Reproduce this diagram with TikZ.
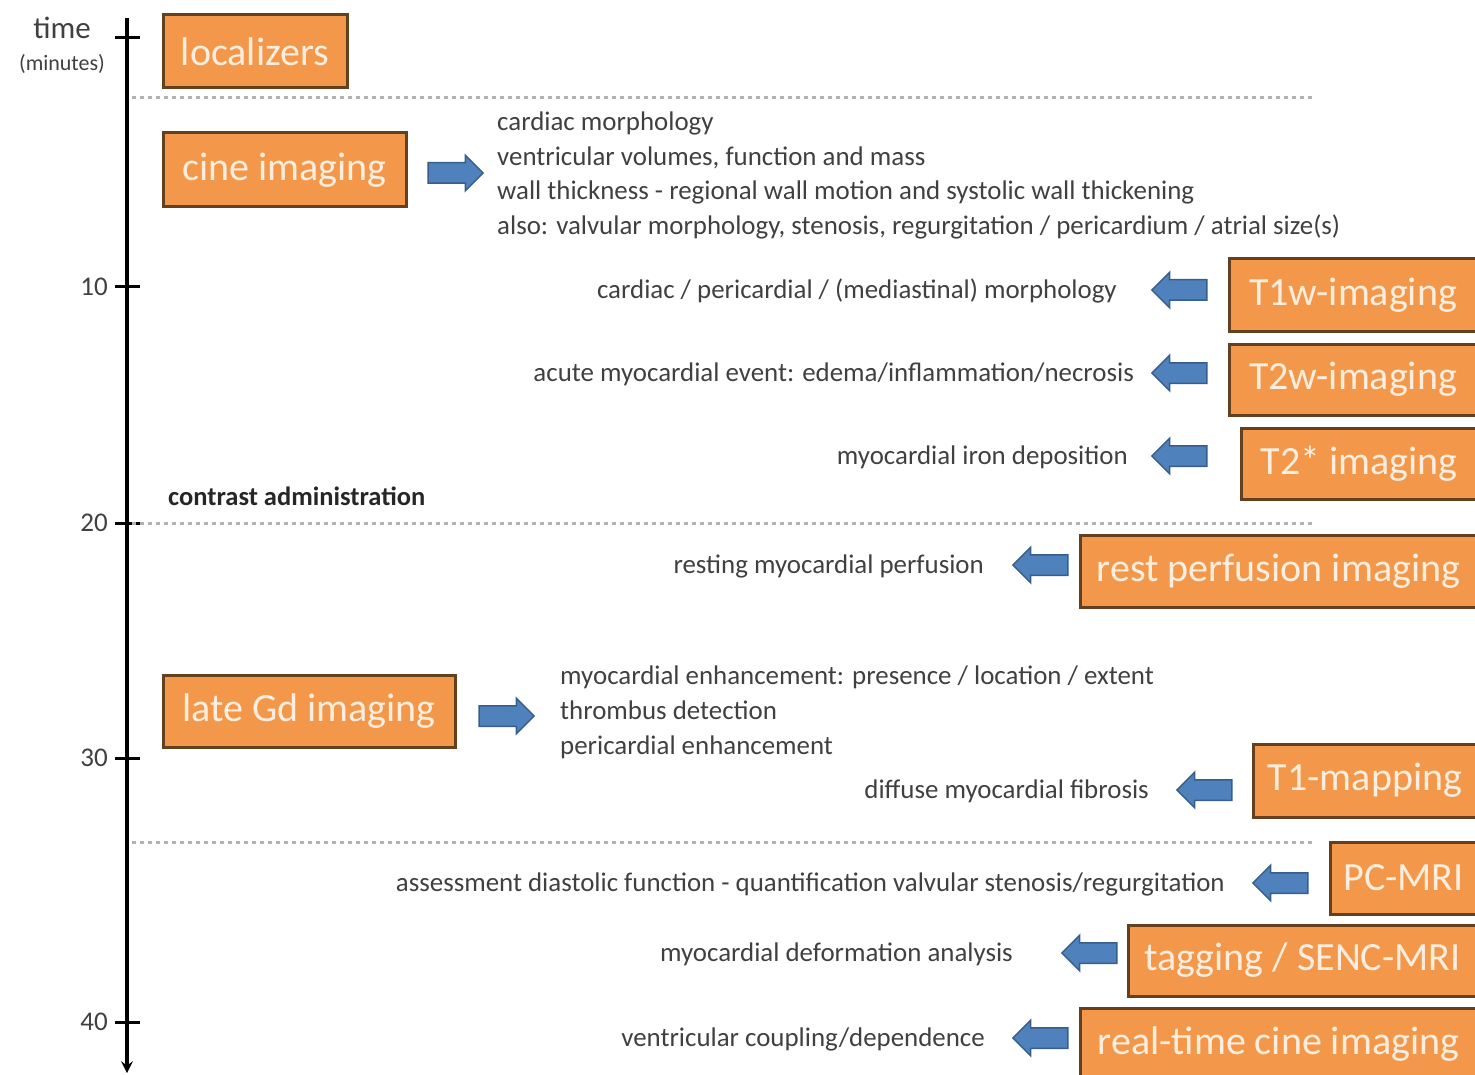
\documentclass[tikz,border=0pt]{standalone}
\usepackage{fontspec}
\setmainfont{Carlito}
\usetikzlibrary{shapes.arrows}
\definecolor{boxfill}{RGB}{243,152,74}
\definecolor{boxline}{RGB}{100,64,30}
\definecolor{boxtext}{RGB}{254,238,224}
\definecolor{arrowfill}{RGB}{79,129,189}
\definecolor{arrowline}{RGB}{56,93,138}
\definecolor{txtgray}{RGB}{64,64,64}
\begin{document}
\begin{tikzpicture}[x=1pt,y=-1pt,
  stage/.style={draw=boxline,fill=boxfill,line width=3pt,text=boxtext,font=\fontsize{40}{42}\selectfont,inner sep=0pt},
  goal/.style={text=txtgray,font=\fontsize{26.9}{34.7}\selectfont,inner sep=0pt,align=left},
  blockarrow/.style={single arrow,draw=arrowline,fill=arrowfill,line width=1.5pt,inner xsep=0pt,inner ysep=9.5pt,minimum height=55pt,single arrow head extend=7.5pt},
  leftarrow/.style={blockarrow,shape border rotate=180},
  sep/.style={gray!60,line width=3pt,dash pattern=on 4pt off 4pt},
  tick/.style={line width=3pt}]
  \useasboundingbox (0,0) rectangle (1475,1075);
  \draw[line width=4pt,-stealth] (127,18) -- (127,1073);
  \draw[tick] (115,38) -- (140,38);
  \foreach \y/\lab in {287/10,523/20,758/30,1022/40}{
    \draw[tick] (115,\y) -- (140,\y);
    \node[anchor=east,text=txtgray,font=\fontsize{27}{28}\selectfont,inner sep=0pt] (t\lab) at (108,\y) {\lab};
  }
  \node[text=txtgray,font=\fontsize{31}{32}\selectfont] (time) at (62,28) {time};
  \node[text=txtgray,font=\fontsize{22}{24}\selectfont] (unit) at (62,64) {(minutes)};
  \draw[sep] (132,98) -- (1315,98);
  \draw[sep] (132,523) -- (1315,523);
  \draw[sep] (132,842) -- (1315,842);
  \node[anchor=west,inner sep=0pt,text=black!85,font=\bfseries\fontsize{26.5}{28}\selectfont] (contrast) at (168,496) {contrast administration};

  \node[stage,minimum width=184pt,minimum height=73pt] (loc) at (255,51.5) {localizers};
  \node[stage,minimum width=243pt,minimum height=74pt] (cine) at (284.5,170) {cine imaging};
  \node[stage,minimum width=248pt,minimum height=72pt] (tonew) at (1353,295) {T1w-imaging};
  \node[stage,minimum width=248pt,minimum height=71pt] (ttwow) at (1353,379.5) {T2w-imaging};
  \node[stage,minimum width=236pt,minimum height=71pt] (ttwostar) at (1359,463.5) {T2* imaging};
  \node[stage,minimum width=397pt,minimum height=72pt] (rest) at (1278.5,571) {rest perfusion imaging};
  \node[stage,minimum width=292pt,minimum height=72pt] (late) at (309,711) {late Gd imaging};
  \node[stage,minimum width=224pt,minimum height=73pt] (tonemap) at (1365,780.5) {T1-mapping};
  \node[stage,minimum width=147pt,minimum height=72pt] (pc) at (1403.5,878) {PC-MRI};
  \node[stage,minimum width=349pt,minimum height=71pt] (tag) at (1302.5,960.5) {tagging / SENC-MRI};
  \node[stage,minimum width=397pt,minimum height=72pt] (rt) at (1278.5,1044) {real-time cine imaging};

  \node[blockarrow] (acine) at (450.5,173) {};
  \node[leftarrow] (atonew) at (1184.5,290) {};
  \node[leftarrow] (attwow) at (1184.5,373) {};
  \node[leftarrow] (attwostar) at (1184.5,456) {};
  \node[leftarrow] (arest) at (1045.5,565) {};
  \node[blockarrow] (alate) at (501.5,716) {};
  \node[leftarrow] (atonemap) at (1209.5,790) {};
  \node[leftarrow] (apc) at (1285.5,883) {};
  \node[leftarrow] (atag) at (1094.5,953) {};
  \node[leftarrow] (art) at (1045.5,1038) {};

  \node[goal,anchor=west] (gcine) at (497,175.5) {cardiac morphology\\ventricular volumes, function and mass\\wall thickness - regional wall motion and systolic wall thickening\\also: valvular morphology, stenosis, regurgitation / pericardium / atrial size(s)};
  \node[goal,anchor=east] (gtonew) at (1117,291) {cardiac / pericardial / (mediastinal) morphology};
  \node[goal,anchor=east] (gttwow) at (1134,374) {acute myocardial event: edema/inflammation/necrosis};
  \node[goal,anchor=east] (gttwostar) at (1128,457) {myocardial iron deposition};
  \node[goal,anchor=east] (grest) at (984,566) {resting myocardial perfusion};
  \node[goal,anchor=west] (glate) at (560,712.5) {myocardial enhancement: presence / location / extent\\thrombus detection\\pericardial enhancement};
  \node[goal,anchor=east] (gtonemap) at (1149,791) {diffuse myocardial fibrosis};
  \node[goal,anchor=east] (gpc) at (1225,884) {assessment diastolic function - quantification valvular stenosis/regurgitation};
  \node[goal,anchor=east] (gtag) at (1013,954) {myocardial deformation analysis};
  \node[goal,anchor=east] (grt) at (985,1039) {ventricular coupling/dependence};
\end{tikzpicture}
\end{document}
